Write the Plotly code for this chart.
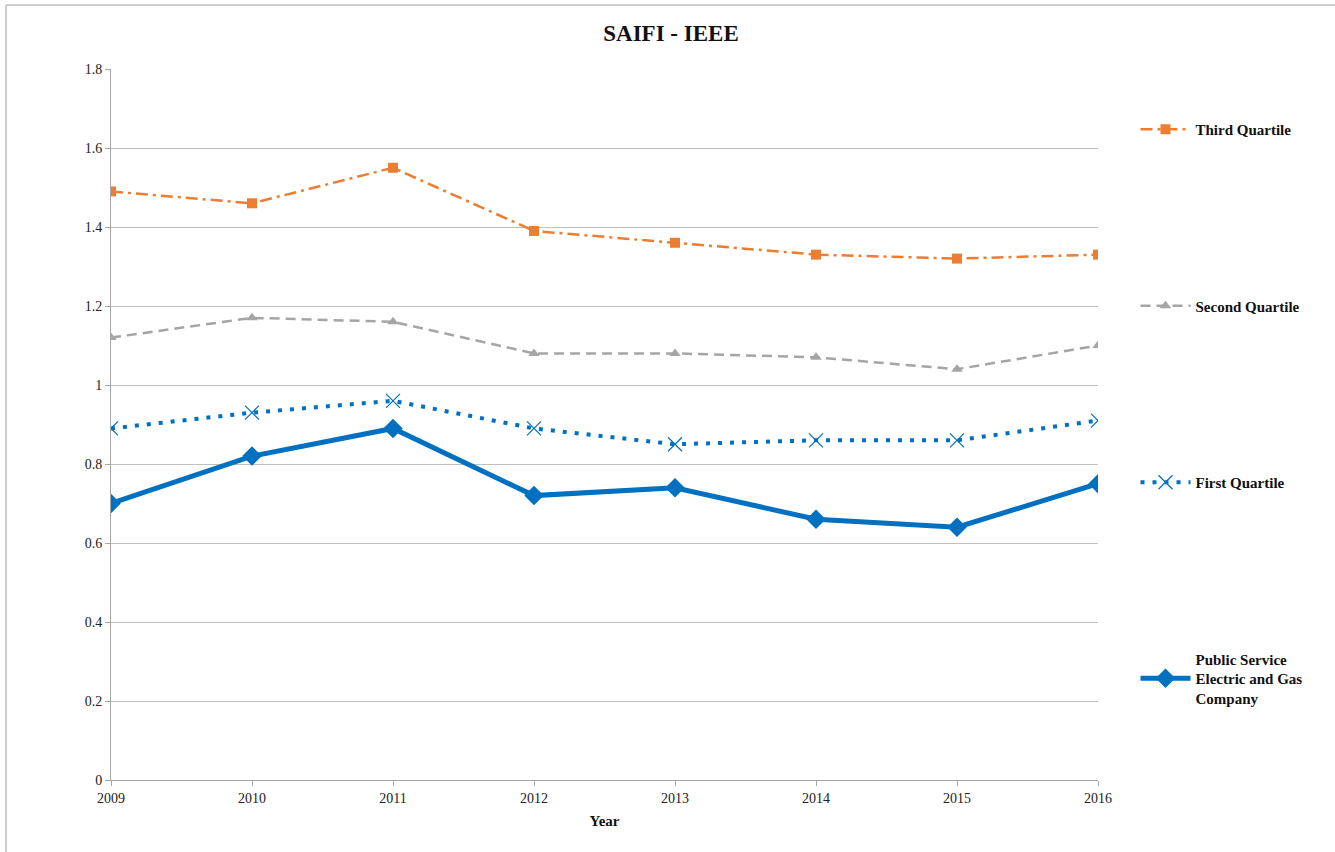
import plotly.graph_objects as go

years = [2009, 2010, 2011, 2012, 2013, 2014, 2015, 2016]
third_quartile = [1.49, 1.46, 1.55, 1.39, 1.36, 1.33, 1.32, 1.33]
second_quartile = [1.12, 1.17, 1.16, 1.08, 1.08, 1.07, 1.04, 1.10]
first_quartile = [0.89, 0.93, 0.96, 0.89, 0.85, 0.86, 0.86, 0.91]
pseg = [0.70, 0.82, 0.89, 0.72, 0.74, 0.66, 0.64, 0.75]
y_ticks = [0, 0.2, 0.4, 0.6, 0.8, 1.0, 1.2, 1.4, 1.6, 1.8]
y_tick_labels = ["0", "0.2", "0.4", "0.6", "0.8", "1", "1.2", "1.4", "1.6", "1.8"]

FONT = "Liberation Serif"
ORANGE = "#ED7D31"
GRAY = "#A5A5A5"
BLUE = "#0070C0"

fig = go.Figure()
fig.add_trace(go.Scatter(
    x=years, y=third_quartile, name="Third Quartile",
    legendgroup="a", mode="lines+markers",
    line=dict(color=ORANGE, width=2.5, dash="12px,5px,3px,5px"),
    marker=dict(symbol="square", size=10, color=ORANGE)))
fig.add_trace(go.Scatter(
    x=years, y=second_quartile, name="Second Quartile",
    legendgroup="b", mode="lines+markers",
    line=dict(color=GRAY, width=2.5, dash="10px,6px"),
    marker=dict(symbol="triangle-up", size=10, color=GRAY)))
fig.add_trace(go.Scatter(
    x=years, y=first_quartile, name="First Quartile",
    legendgroup="c", mode="lines+markers",
    line=dict(color=BLUE, width=4, dash="4px,8px"),
    marker=dict(symbol="x-thin", size=14, color=BLUE, line=dict(color=BLUE, width=1.2))))
fig.add_trace(go.Scatter(
    x=years, y=pseg, name="Public Service<br>Electric and Gas<br>Company",
    legendgroup="d", mode="lines+markers",
    line=dict(color=BLUE, width=5),
    marker=dict(symbol="diamond", size=15, color=BLUE)))

fig.update_layout(
    width=1335, height=852,
    paper_bgcolor="white", plot_bgcolor="white",
    margin=dict(l=111, r=237, t=69, b=72),
    font=dict(family=FONT, size=14, color="#222222"),
    title=dict(text="<b>SAIFI - IEEE</b>", x=671 / 1335, xanchor="center",
               y=1 - 33 / 852, yanchor="middle", font=dict(size=23, family=FONT, color="#111111")),
    showlegend=True,
    legend=dict(traceorder="grouped", tracegroupgap=154,
                x=1.038, xanchor="left", y=1 - (113 - 69) / 711, yanchor="top",
                font=dict(size=15, family=FONT, color="#111111", weight="bold"),
                itemwidth=50, bgcolor="rgba(0,0,0,0)"),
    xaxis=dict(range=[2009, 2016], tickvals=years, ticktext=[str(y) for y in years],
               showgrid=False, showline=True, linecolor="#A6A6A6", linewidth=1,
               ticks="outside", ticklen=5, tickcolor="#A6A6A6",
               tickfont=dict(size=14, family=FONT, color="#222222"),
               title=dict(text="<b>Year</b>", font=dict(size=15, family=FONT, color="#111111"), standoff=10),
               zeroline=False),
    yaxis=dict(range=[0, 1.8], tickvals=y_ticks, ticktext=y_tick_labels,
               showgrid=True, gridcolor="#BFBFBF", gridwidth=1,
               showline=True, linecolor="#A6A6A6", linewidth=1,
               ticks="outside", ticklen=5, tickcolor="#A6A6A6",
               tickfont=dict(size=14, family=FONT, color="#222222"),
               zeroline=False),
)

# outer chart-area border (left and top edges)
fig.add_shape(type="line", xref="paper", yref="paper",
              x0=(6 - 111) / 987, x1=(6 - 111) / 987,
              y0=1 + (69 - 5) / 711, y1=1 + (69 - 860) / 711,
              line=dict(color="#BFBFBF", width=1.5))
fig.add_shape(type="line", xref="paper", yref="paper",
              x0=(6 - 111) / 987, x1=(1340 - 111) / 987,
              y0=1 + (69 - 5) / 711, y1=1 + (69 - 5) / 711,
              line=dict(color="#BFBFBF", width=1.5))

fig.write_html("out.html", config={"displayModeBar": False},
               post_script="document.body.style.margin='0px';")
